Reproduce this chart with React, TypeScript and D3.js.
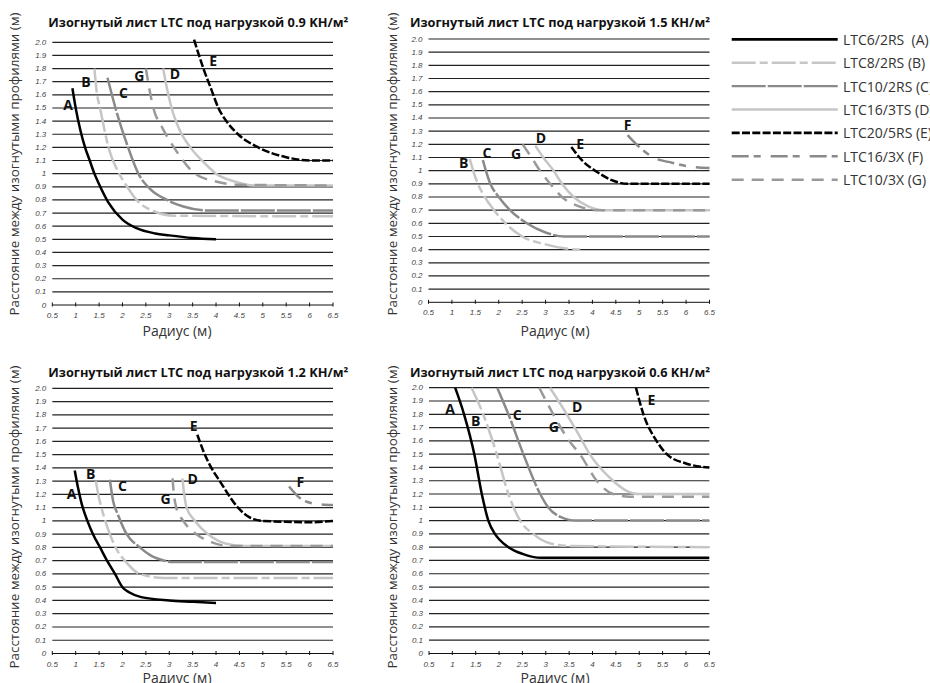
import React from "react";
import * as d3 from "d3";

type Pt = [number, number];
type Lab = [string, number, number];

// ---- axis ticks ----
const xTicks = [0.5, 1, 1.5, 2, 2.5, 3, 3.5, 4, 4.5, 5, 5.5, 6, 6.5];
const xTickLabels = ["0.5", "1", "1.5", "2", "2.5", "3", "3.5", "4", "4.5", "5", "5.5", "6", "6.5"];
const yTicks = [0, 0.1, 0.2, 0.3, 0.4, 0.5, 0.6, 0.7, 0.8, 0.9, 1, 1.1, 1.2, 1.3, 1.4, 1.5, 1.6, 1.7, 1.8, 1.9, 2.0];
const yTickLabels = ["0", "0.1", "0.2", "0.3", "0.4", "0.5", "0.6", "0.7", "0.8", "0.9", "1", "1.1", "1.2", "1.3", "1.4", "1.5", "1.6", "1.7", "1.8", "1.9", "2.0"];

// ---- series ----
const seriesKeys = ["A", "B", "C", "D", "E", "F", "G"];
const seriesNames = ["LTC6/2RS  (A)", "LTC8/2RS (B)", "LTC10/2RS (C)", "LTC16/3TS (D)", "LTC20/5RS (E)", "LTC16/3X (F)", "LTC10/3X (G)"];
const seriesColors = ["#000000", "#c6c6c6", "#8a8a8a", "#c6c6c6", "#000000", "#8a8a8a", "#9a9a9a"];
const seriesDash = ["", "24 4 8 4", "34 2", "", "8 2.3", "17 5 7 10", "12 8"];

// ---- panel loads ----
const panelLoads = ["0.9", "1.5", "1.2", "0.6"];

// 0.9 kN/m2
const A09: Pt[] = [[0.93, 1.65], [1.0, 1.5], [1.1, 1.33], [1.2, 1.2], [1.3, 1.1], [1.4, 1.0], [1.5, 0.92], [1.7, 0.78], [2.0, 0.65], [2.3, 0.585], [2.7, 0.545], [3.0, 0.53], [3.5, 0.51], [4.0, 0.5]];
const B09: Pt[] = [[1.4, 1.8], [1.45, 1.62], [1.52, 1.5], [1.6, 1.36], [1.7, 1.2], [1.93, 1.0], [2.1, 0.9], [2.3, 0.8], [2.7, 0.71], [3.1, 0.68], [6.5, 0.675]];
const C09: Pt[] = [[1.68, 1.73], [1.85, 1.5], [2.12, 1.2], [2.34, 1.0], [2.6, 0.88], [2.95, 0.8], [3.3, 0.75], [3.8, 0.72], [6.5, 0.72]];
const D09: Pt[] = [[2.87, 1.8], [2.95, 1.65], [3.05, 1.5], [3.2, 1.35], [3.45, 1.2], [3.7, 1.1], [4.0, 1.0], [4.4, 0.94], [4.8, 0.91], [6.5, 0.91]];
const E09: Pt[] = [[3.53, 2.02], [3.73, 1.8], [3.9, 1.64], [4.05, 1.5], [4.22, 1.4], [4.47, 1.3], [4.9, 1.2], [5.5, 1.125], [6.0, 1.1], [6.5, 1.1]];
const F09: Pt[] = [];
const G09: Pt[] = [[2.5, 1.8], [2.66, 1.5], [2.85, 1.35], [3.1, 1.2], [3.55, 1.0], [4.0, 0.94], [4.5, 0.915], [6.5, 0.91]];

// 1.5 kN/m2
const A15: Pt[] = [];
const B15: Pt[] = [[1.38, 1.09], [1.5, 0.95], [1.7, 0.8], [1.9, 0.7], [2.2, 0.58], [2.5, 0.5], [3.0, 0.44], [3.4, 0.41], [3.75, 0.4]];
const C15: Pt[] = [[1.66, 1.08], [1.82, 0.9], [2.0, 0.8], [2.24, 0.7], [2.6, 0.6], [3.0, 0.53], [3.4, 0.5], [6.5, 0.5]];
const D15: Pt[] = [[2.78, 1.19], [2.95, 1.1], [3.17, 1.0], [3.35, 0.9], [3.6, 0.8], [3.9, 0.73], [4.2, 0.7], [6.5, 0.7]];
const E15: Pt[] = [[3.55, 1.18], [3.8, 1.07], [4.1, 0.99], [4.4, 0.93], [4.75, 0.9], [6.5, 0.9]];
const F15: Pt[] = [[4.75, 1.27], [5.0, 1.18], [5.3, 1.1], [5.7, 1.06], [6.1, 1.03], [6.5, 1.02]];
const G15: Pt[] = [[2.51, 1.2], [2.7, 1.1], [2.88, 1.0], [3.1, 0.9], [3.35, 0.8], [3.7, 0.73], [4.1, 0.7], [6.5, 0.7]];

// 1.2 kN/m2
const A12: Pt[] = [[0.98, 1.38], [1.05, 1.25], [1.12, 1.14], [1.25, 1.0], [1.37, 0.9], [1.52, 0.8], [1.67, 0.7], [1.84, 0.6], [2.0, 0.5], [2.15, 0.46], [2.4, 0.425], [3.0, 0.4], [3.5, 0.39], [4.0, 0.38]];
const B12: Pt[] = [[1.43, 1.3], [1.5, 1.17], [1.55, 1.1], [1.73, 0.9], [1.9, 0.77], [2.05, 0.7], [2.37, 0.6], [2.9, 0.57], [6.5, 0.57]];
const C12: Pt[] = [[1.73, 1.31], [1.8, 1.15], [1.9, 1.05], [2.09, 0.9], [2.37, 0.8], [2.6, 0.74], [2.9, 0.7], [3.05, 0.69], [6.5, 0.69]];
const D12: Pt[] = [[3.28, 1.32], [3.32, 1.2], [3.37, 1.1], [3.55, 1.0], [3.83, 0.9], [4.2, 0.83], [4.6, 0.81], [6.5, 0.81]];
const E12: Pt[] = [[3.6, 1.65], [3.76, 1.5], [3.9, 1.4], [4.08, 1.3], [4.47, 1.1], [4.7, 1.03], [5.0, 1.0], [6.0, 0.99], [6.5, 1.0]];
const F12: Pt[] = [[5.56, 1.26], [5.8, 1.17], [6.1, 1.13], [6.5, 1.12]];
const G12: Pt[] = [[3.07, 1.32], [3.1, 1.2], [3.15, 1.1], [3.3, 1.0], [3.58, 0.9], [3.9, 0.84], [4.3, 0.81], [6.5, 0.81]];

// 0.6 kN/m2
const A06: Pt[] = [[1.06, 2.0], [1.25, 1.8], [1.47, 1.5], [1.63, 1.2], [1.77, 1.0], [1.91, 0.9], [2.0, 0.86], [2.2, 0.8], [2.5, 0.75], [2.9, 0.72], [6.5, 0.72]];
const B06: Pt[] = [[1.41, 2.0], [1.66, 1.8], [1.95, 1.5], [2.2, 1.2], [2.45, 1.0], [2.73, 0.9], [3.0, 0.84], [3.45, 0.81], [6.5, 0.8]];
const C06: Pt[] = [[1.96, 2.0], [2.2, 1.8], [2.52, 1.5], [2.88, 1.2], [3.05, 1.1], [3.3, 1.03], [3.66, 1.0], [6.5, 1.0]];
const D06: Pt[] = [[3.09, 2.0], [3.45, 1.8], [3.7, 1.65], [3.94, 1.5], [4.44, 1.3], [4.7, 1.23], [5.0, 1.2], [6.5, 1.2]];
const E06: Pt[] = [[4.93, 2.0], [5.09, 1.8], [5.37, 1.6], [5.59, 1.5], [6.0, 1.43], [6.5, 1.4]];
const F06: Pt[] = [];
const G06: Pt[] = [[2.86, 2.0], [3.16, 1.8], [3.5, 1.6], [3.73, 1.5], [4.09, 1.3], [4.44, 1.2], [4.8, 1.18], [6.5, 1.18]];

// curve letter labels
const lab09: Lab[] = [["A", 0.84, 1.53], ["B", 1.22, 1.7], ["C", 2.02, 1.62], ["G", 2.36, 1.75], ["D", 3.12, 1.76], ["E", 3.94, 1.86]];
const lab15: Lab[] = [["B", 1.25, 1.06], ["C", 1.75, 1.14], ["G", 2.37, 1.13], ["D", 2.9, 1.25], ["E", 3.74, 1.21], ["F", 4.75, 1.35]];
const lab12: Lab[] = [["A", 0.91, 1.21], ["B", 1.32, 1.36], ["C", 2.0, 1.27], ["G", 2.92, 1.17], ["D", 3.5, 1.32], ["E", 3.52, 1.72], ["F", 5.8, 1.3]];
const lab06: Lab[] = [["A", 0.95, 1.84], ["B", 1.5, 1.75], ["C", 2.39, 1.8], ["G", 3.17, 1.71], ["D", 3.67, 1.86], ["E", 5.26, 1.91]];

const panelCurves: Pt[][][] = [
  [A09, B09, C09, D09, E09, F09, G09],
  [A15, B15, C15, D15, E15, F15, G15],
  [A12, B12, C12, D12, E12, F12, G12],
  [A06, B06, C06, D06, E06, F06, G06],
];
const panelLabels: Lab[][] = [lab09, lab15, lab12, lab06];

// ---- layout (pixels) ----
const layouts = [
  { x0: 52.3, x1: 333, yTop: 42.3, yBot: 305, titleX: 48.3, titleY: 27, yLabX: 14, yLabY: 164, xLabX: 177, xLabY: 336 },
  { x0: 428.5, x1: 709.5, yTop: 39, yBot: 302.3, titleX: 410, titleY: 27, yLabX: 391.5, yLabY: 164, xLabX: 555, xLabY: 336 },
  { x0: 52.3, x1: 333, yTop: 388.3, yBot: 653.5, titleX: 48.3, titleY: 377, yLabX: 14, yLabY: 517, xLabX: 177, xLabY: 683 },
  { x0: 429, x1: 709.3, yTop: 387.7, yBot: 653.5, titleX: 410, titleY: 377, yLabX: 391.5, yLabY: 517, xLabX: 555, xLabY: 683 },
];

const SANS = "'Open Sans', 'Noto Sans', sans-serif";
const TICKFONT = "'Liberation Sans', Arial, sans-serif";

function Panel({ idx }: { idx: number }) {
  const L = layouts[idx];
  const x = d3.scaleLinear().domain([0.5, 6.5]).range([L.x0, L.x1]);
  const y = d3.scaleLinear().domain([0, 2]).range([L.yBot, L.yTop]);
  const line = d3
    .line<Pt>()
    .x((d) => x(d[0]))
    .y((d) => y(d[1]))
    .curve(d3.curveMonotoneX);
  const curves = panelCurves[idx];
  return (
    <g>
      <text
        x={L.titleX}
        y={L.titleY}
        fontFamily={SANS}
        fontWeight={700}
        fontSize={12.5}
        fill="#111"
        textLength={300}
        lengthAdjust="spacingAndGlyphs"
      >
        {`Изогнутый лист LTC под нагрузкой ${panelLoads[idx]} KH/м²`}
      </text>
      {yTicks.map((t, i) =>
        i === 0 ? null : (
          <line key={"g" + i} x1={L.x0} x2={L.x1} y1={y(t)} y2={y(t)} stroke="#222" strokeWidth={1.2} />
        )
      )}
      <line x1={L.x0} x2={L.x1} y1={y(0)} y2={y(0)} stroke="#111" strokeWidth={1} />
      {xTicks.map((t, i) => (
        <line key={"t" + i} x1={x(t)} x2={x(t)} y1={y(0) - 2.5} y2={y(0) + 1.5} stroke="#111" strokeWidth={1} />
      ))}
      {yTicks.map((t, i) => (
        <text
          key={"yl" + i}
          x={L.x0 - 6}
          y={y(t)}
          textAnchor="end"
          dominantBaseline="central"
          fontFamily={TICKFONT}
          fontStyle="italic"
          fontSize={8}
          fill="#444"
        >
          {yTickLabels[i]}
        </text>
      ))}
      {xTicks.map((t, i) => (
        <text
          key={"xl" + i}
          x={x(t)}
          y={y(0) + 13}
          textAnchor="middle"
          fontFamily={TICKFONT}
          fontStyle="italic"
          fontSize={8}
          fill="#444"
        >
          {xTickLabels[i]}
        </text>
      ))}
      {curves.map((c, i) =>
        c.length ? (
          <path
            key={"c" + i}
            d={line(c) || ""}
            fill="none"
            stroke={seriesColors[i]}
            strokeWidth={2.5}
            strokeDasharray={seriesDash[i] || undefined}
          />
        ) : null
      )}
      {panelLabels[idx].map((l, i) => (
        <text
          key={"lb" + i}
          x={x(l[1])}
          y={y(l[2])}
          textAnchor="middle"
          dominantBaseline="central"
          fontFamily={SANS}
          fontWeight={700}
          fontSize={14}
          fill="#111"
        >
          {l[0]}
        </text>
      ))}
      <text
        transform={`translate(${L.yLabX},${L.yLabY}) rotate(-90)`}
        textAnchor="middle"
        dominantBaseline="central"
        fontFamily={SANS}
        fontSize={13}
        fill="#333"
        textLength={303}
        lengthAdjust="spacingAndGlyphs"
      >
        Расстояние между изогнутыми профилями (м)
      </text>
      <text x={L.xLabX} y={L.xLabY} textAnchor="middle" fontFamily={SANS} fontSize={14} fill="#333">
        Радиус (м)
      </text>
    </g>
  );
}

function Legend() {
  const rowY = d3.scaleLinear().domain([0, 6]).range([39.3, 179.7]);
  return (
    <g>
      {seriesKeys.map((k, i) => (
        <g key={k}>
          <line
            x1={731.7}
            x2={837.7}
            y1={rowY(i)}
            y2={rowY(i)}
            stroke={seriesColors[i]}
            strokeWidth={i === 0 || i === 4 ? 2.7 : 2.4}
            strokeDasharray={seriesDash[i] || undefined}
          />
          <text x={843} y={rowY(i)} dominantBaseline="central" fontFamily={SANS} fontSize={14} fill="#333" style={{ whiteSpace: "pre" }}>
            {seriesNames[i]}
          </text>
        </g>
      ))}
    </g>
  );
}

export default function App() {
  return (
    <svg
      width={930}
      height={683}
      style={{ position: "absolute", left: 0, top: 0, background: "#fff" }}
    >
      <rect x={0} y={0} width={930} height={683} fill="#fff" />
      {[0, 1, 2, 3].map((i) => (
        <Panel key={i} idx={i} />
      ))}
      <Legend />
    </svg>
  );
}
